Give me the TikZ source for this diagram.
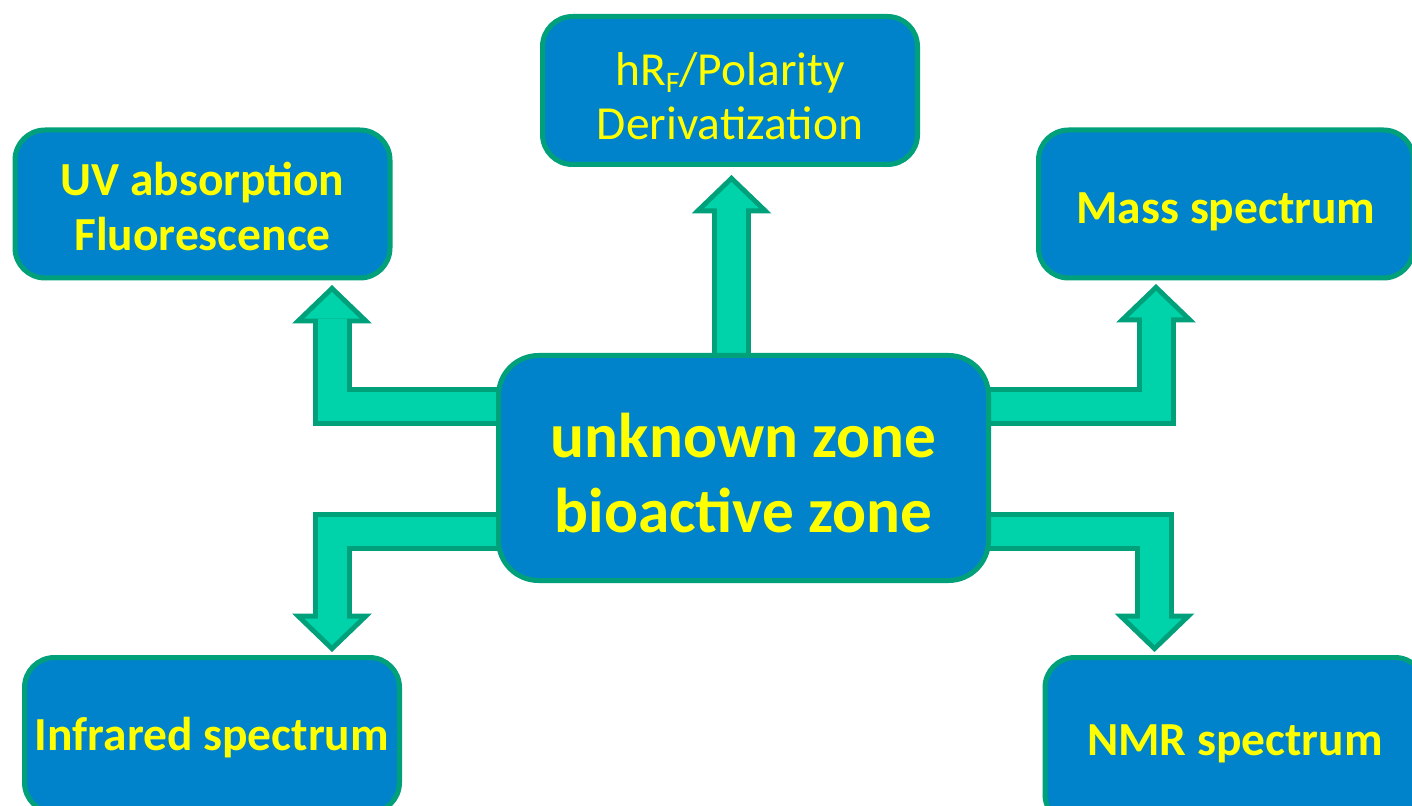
\documentclass[tikz,border=0pt]{standalone}
\usepackage{fontspec}
\setmainfont{Carlito}
\usetikzlibrary{arrows.meta,positioning,calc,backgrounds}
\definecolor{boxblue}{RGB}{0,131,203}
\definecolor{rimgreen}{RGB}{0,160,122}
\definecolor{arrowgreen}{RGB}{0,210,170}
\definecolor{labelyellow}{RGB}{255,255,0}
\tikzset{
  % rounded blue box
  box/.style={
    draw=rimgreen,
    line width=0.1cm,
    fill=boxblue,
    rounded corners=0.6cm,
    minimum width=7.5cm,
    minimum height=2.96cm,
    inner sep=2pt,
    align=center,
    text=labelyellow,
    font=\fontsize{27}{31}\selectfont\bfseries
  },
  % centre box
  hub/.style={box, minimum width=9.8cm, minimum height=4.5cm,
    rounded corners=0.8cm, font=\fontsize{36}{42.5}\selectfont\bfseries},
  % block arrow: dark rim first, light body on top
  arrrim/.style={rimgreen, line width=0.78cm,
    -{Triangle[length=0.77cm, width=1.6cm, line width=0pt]}},
  arrbody/.style={arrowgreen, line width=0.58cm, shorten >=0.139cm,
    -{Triangle[length=0.531cm, width=1.103cm, line width=0pt]}},
}
\begin{document}
\begin{tikzpicture}
  \useasboundingbox (0,0) rectangle (28.24,16.1);

  % Boxes
  \node[hub, text height=73pt, text depth=0pt] (hub) at (14.87,6.74) {unknown zone\\bioactive zone};
  \node[box, font=\fontsize{27}{30.7}\selectfont, text height=56.2pt, text depth=0pt] (tlc) at (14.6,14.29)
    {hR\raisebox{-0.3ex}{\fontsize{17}{17}\selectfont F}/Polarity\\Derivatization};
  \node[box, text height=52.5pt, text depth=0pt] (uv) at (4.05,12.02) {UV absorption\\Fluorescence};
  \node[box, text height=22pt, text depth=0pt] (mass) at (24.52,12.02) {Mass spectrum};
  \node[box, minimum height=3.1cm, text depth=0.8pt] (ir) at (4.24,1.4) {Infrared spectrum};
  \node[box, minimum width=7.6cm, minimum height=3.34cm, text depth=0.8pt] (nmr) at (24.7,1.28) {NMR spectrum};

  % Block arrows
  \begin{scope}[on background layer]
    \coordinate (uprow) at (0,7.97);
    \coordinate (lowrow) at (0,5.47);
    \coordinate (tlctip) at (14.63,12.6);
    \coordinate (uvtip) at (6.64,10.4);
    \coordinate (masstip) at (23.12,10.42);
    \coordinate (irtip) at (6.64,3.06);
    \coordinate (nmrtip) at (23.09,3.06);

    \draw[arrrim] (hub -| tlctip) -- (tlctip);
    \draw[arrbody] (hub -| tlctip) -- (tlctip);
    \draw[arrrim] (hub |- uprow) -| (uvtip);
    \draw[arrbody] (hub |- uprow) -| (uvtip);
    \draw[arrrim] (hub |- uprow) -| (masstip);
    \draw[arrbody] (hub |- uprow) -| (masstip);
    \draw[arrrim] (hub |- lowrow) -| (irtip);
    \draw[arrbody] (hub |- lowrow) -| (irtip);
    \draw[arrrim] (hub |- lowrow) -| (nmrtip);
    \draw[arrbody] (hub |- lowrow) -| (nmrtip);
  \end{scope}
\end{tikzpicture}
\end{document}
